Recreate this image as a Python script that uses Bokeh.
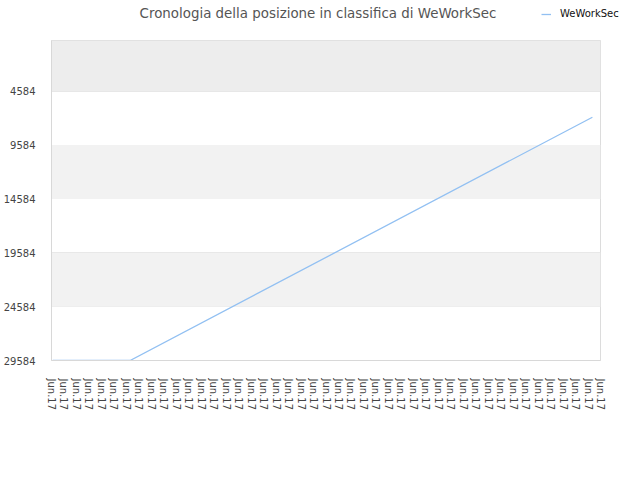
from bokeh.plotting import figure
from bokeh.layouts import column
from bokeh.models import (Range1d, FixedTicker, BoxAnnotation, Legend, LegendItem, Label)
from bokeh.embed import file_html
from bokeh.resources import INLINE

# ---- data ----
title_text = "Cronologia della posizione in classifica di WeWorkSec"
series_name = "WeWorkSec"
x_tick_labels = ["Jun.17"] * 45
y_ticks = [4584, 9584, 14584, 19584, 24584, 29584]
series_x = [0.1, 6.3, 43.35]
series_rank = [29584, 29584, 7000]
y_top = -120

FONT = "DejaVu Sans"
LINE_COLOR = "#92c0f2"

# ---- header: title + legend ----
head = figure(width=624, height=39, output_backend="svg", toolbar_location=None,
              min_border=0, x_axis_location=None, y_axis_location=None,
              x_range=Range1d(0, 624), y_range=Range1d(0, 39))
head.frame_align = False
head.outline_line_color = None
head.grid.grid_line_color = None
head.background_fill_color = "white"
head.border_fill_color = "white"
head.add_layout(Label(x=317.5, y=26, x_units="screen", y_units="screen", text=title_text,
                      text_align="center", text_baseline="alphabetic", text_font=FONT,
                      text_font_size="13.4px", text_color="#555555"))
# legend sample: the series itself, lying outside this header's visible range
sample = head.line(series_x, series_rank, line_color=LINE_COLOR, line_width=1.3)
legend = Legend(items=[LegendItem(label=series_name, renderers=[sample])], location=(541, 20),
                glyph_width=10, glyph_height=10, label_standoff=9, padding=0, margin=0,
                background_fill_alpha=0, border_line_alpha=0, label_text_font=FONT,
                label_text_font_size="10px", label_height=10, label_text_color="#111111")
head.add_layout(legend)

# ---- main chart ----
p = figure(width=624, height=425, output_backend="svg", toolbar_location=None,
           min_border_left=51, min_border_right=24, min_border_top=1, min_border_bottom=104,
           x_range=Range1d(0, len(x_tick_labels) - 1),
           y_range=Range1d(y_ticks[-1], y_top))
p.frame_align = False
p.background_fill_color = "white"
p.border_fill_color = "white"
p.outline_line_color = "#dcdcdc"
p.outline_line_width = 1

p.add_layout(BoxAnnotation(bottom=y_ticks[0], top=y_top, fill_color="#ededed", fill_alpha=1, line_alpha=0, level="underlay"))
for i in (1, 3):
    p.add_layout(BoxAnnotation(bottom=y_ticks[i + 1], top=y_ticks[i], fill_color="#f2f2f2", fill_alpha=1, line_alpha=0, level="underlay"))

p.line(series_x, series_rank, line_color=LINE_COLOR, line_width=1.3)

p.xaxis.ticker = FixedTicker(ticks=list(range(len(x_tick_labels))))
p.xaxis.major_label_overrides = {i: t for i, t in enumerate(x_tick_labels)}
p.xaxis.major_label_orientation = "vertical"
p.yaxis.ticker = FixedTicker(ticks=y_ticks)
for ax in (p.xaxis[0], p.yaxis[0]):
    ax.major_tick_line_color = None
    ax.minor_tick_line_color = None
    ax.axis_line_color = "#d8d8d8"
    ax.major_label_text_font = FONT
    ax.major_label_text_color = "#444444"
p.xaxis.major_label_standoff = 12
p.yaxis.major_label_standoff = 10
p.xaxis.major_label_text_font_size = "10px"
p.yaxis.major_label_text_font_size = "10px"

p.xgrid.grid_line_color = None
p.ygrid.grid_line_color = "#e4e4e4"
p.ygrid.ticker = FixedTicker(ticks=y_ticks)

layout = column(head, p, spacing=0)
open("out.html", "w").write(file_html(layout, INLINE))
